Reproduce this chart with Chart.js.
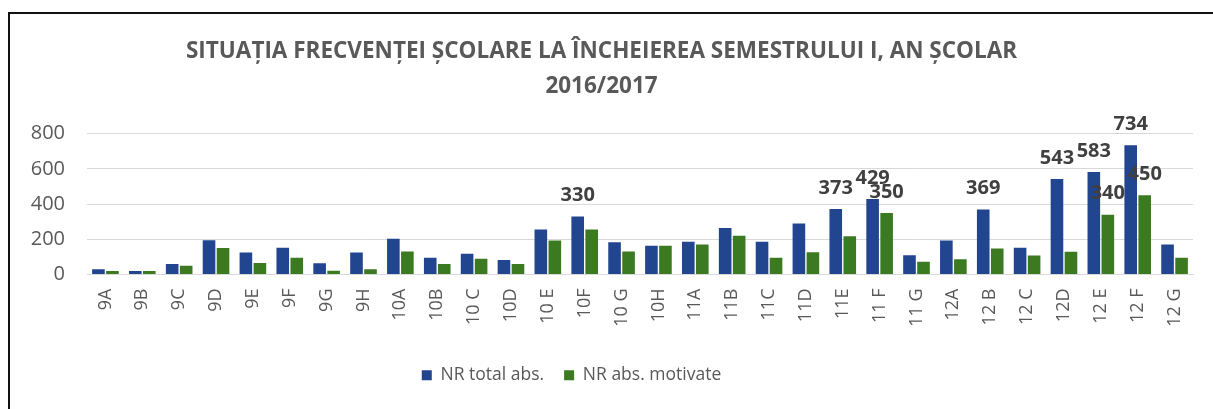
<!DOCTYPE html>
<html>
<head>
<meta charset="utf-8">
<script src="https://cdn.jsdelivr.net/npm/chart.js@4/dist/chart.umd.min.js"></script>
<style>
  html, body { margin: 0; padding: 0; background: #fff; }
  body { width: 1213px; height: 409px; overflow: hidden; position: relative; }
  #frame {
    position: absolute; left: 8px; top: 12px; width: 1215px; height: 400px;
    border-left: 2px solid #111; border-top: 2px solid #111; box-sizing: border-box;
  }
  #wrap { position: absolute; left: 10px; top: 14px; width: 1203px; height: 395px; }
</style>
</head>
<body>
<div id="frame"></div>
<div id="wrap"><canvas id="chart"></canvas></div>
<script>
'use strict';

const classes = ['9A', '9B', '9C', '9D', '9E', '9F', '9G', '9H', '10A', '10B', '10 C', '10D', '10 E', '10F', '10 G',
  '10H', '11A', '11B', '11C', '11D', '11E', '11 F', '11 G', '12A', '12 B', '12 C', '12D', '12 E', '12 F', '12 G'];
const totalAbs = [30, 20, 60, 195, 125, 152, 64, 125, 203, 95, 118, 82, 256, 330, 184,
  163, 186, 265, 186, 290, 373, 429, 110, 193, 369, 152, 543, 583, 734, 171];
const motivatedAbs = [20, 20, 50, 150, 65, 95, 21, 30, 131, 59, 89, 59, 193, 256, 131,
  163, 171, 220, 95, 127, 218, 350, 72, 87, 148, 108, 129, 340, 450, 95];
// which bars carry a value label in the original
const labeledTotal = ['10F', '11E', '11 F', '12 B', '12D', '12 E', '12 F'];
const labeledMotivated = ['11 F', '12 E', '12 F'];
const yTicks = [0, 200, 400, 600, 800];

const GREY = '#595959';
const FONT = '"Open Sans", sans-serif';

const valueLabels = {
  id: 'valueLabels',
  afterDatasetsDraw(chart) {
    const ctx = chart.ctx;
    const picks = [labeledTotal, labeledMotivated];
    ctx.save();
    ctx.font = 'bold 20px ' + FONT;
    ctx.fillStyle = '#404040';
    ctx.textAlign = 'center';
    ctx.textBaseline = 'bottom';
    chart.data.datasets.forEach((ds, di) => {
      const meta = chart.getDatasetMeta(di);
      meta.data.forEach((bar, i) => {
        if (!picks[di].includes(chart.data.labels[i])) return;
        ctx.fillText(String(ds.data[i]), bar.x, bar.y - 11);
      });
    });
    ctx.restore();
  }
};

// legend in the original sits a bit left of the canvas centre
const legendShift = {
  id: 'legendShift',
  afterLayout(chart) {
    chart.legend.left -= 30;
    chart.legend.right -= 30;
  }
};

function onContentLoad() {
  const canvas = document.getElementById('chart');
  canvas.width = 1203;
  canvas.height = 395;

  new Chart(canvas.getContext('2d'), {
    type: 'bar',
    data: {
      labels: classes,
      datasets: [
        { label: 'NR total abs.', data: totalAbs, backgroundColor: '#22458f' },
        { label: 'NR abs. motivate', data: motivatedAbs, backgroundColor: '#3c7a22' }
      ]
    },
    options: {
      responsive: false,
      animation: false,
      layout: { padding: { left: 0, right: 20, top: 10, bottom: 15 } },
      datasets: { bar: { categoryPercentage: 0.76, barPercentage: 0.9 } },
      plugins: {
        title: {
          display: true,
          text: ['SITUAȚIA FRECVENȚEI ȘCOLARE LA ÎNCHEIEREA SEMESTRULUI I, AN ȘCOLAR', '2016/2017'],
          color: GREY,
          font: { family: FONT, size: 22.5, weight: 'bold', lineHeight: 1.55 },
          padding: { top: 10, bottom: 30 }
        },
        legend: {
          position: 'bottom',
          labels: {
            color: GREY,
            font: { family: FONT, size: 17.5 },
            boxWidth: 10, boxHeight: 10, padding: 20
          }
        },
        tooltip: { enabled: false }
      },
      scales: {
        x: {
          afterFit(scale) { scale.height = 72; },
          grid: { display: false },
          border: { color: '#d9d9d9' },
          ticks: {
            color: GREY, maxRotation: 90, minRotation: 90, autoSkip: false, padding: 6,
            font: { family: FONT, size: 18 }
          }
        },
        y: {
          min: 0, max: 800,
          afterFit(scale) { scale.width = 77; },
          afterBuildTicks(scale) { scale.ticks = yTicks.map(v => ({ value: v })); },
          border: { display: false },
          grid: { color: '#d9d9d9', drawTicks: false },
          ticks: {
            color: GREY, padding: 22,
            font: { family: FONT, size: 20 }
          }
        }
      }
    },
    plugins: [valueLabels, legendShift]
  });
}

document.addEventListener('DOMContentLoaded', onContentLoad);
</script>
</body>
</html>
